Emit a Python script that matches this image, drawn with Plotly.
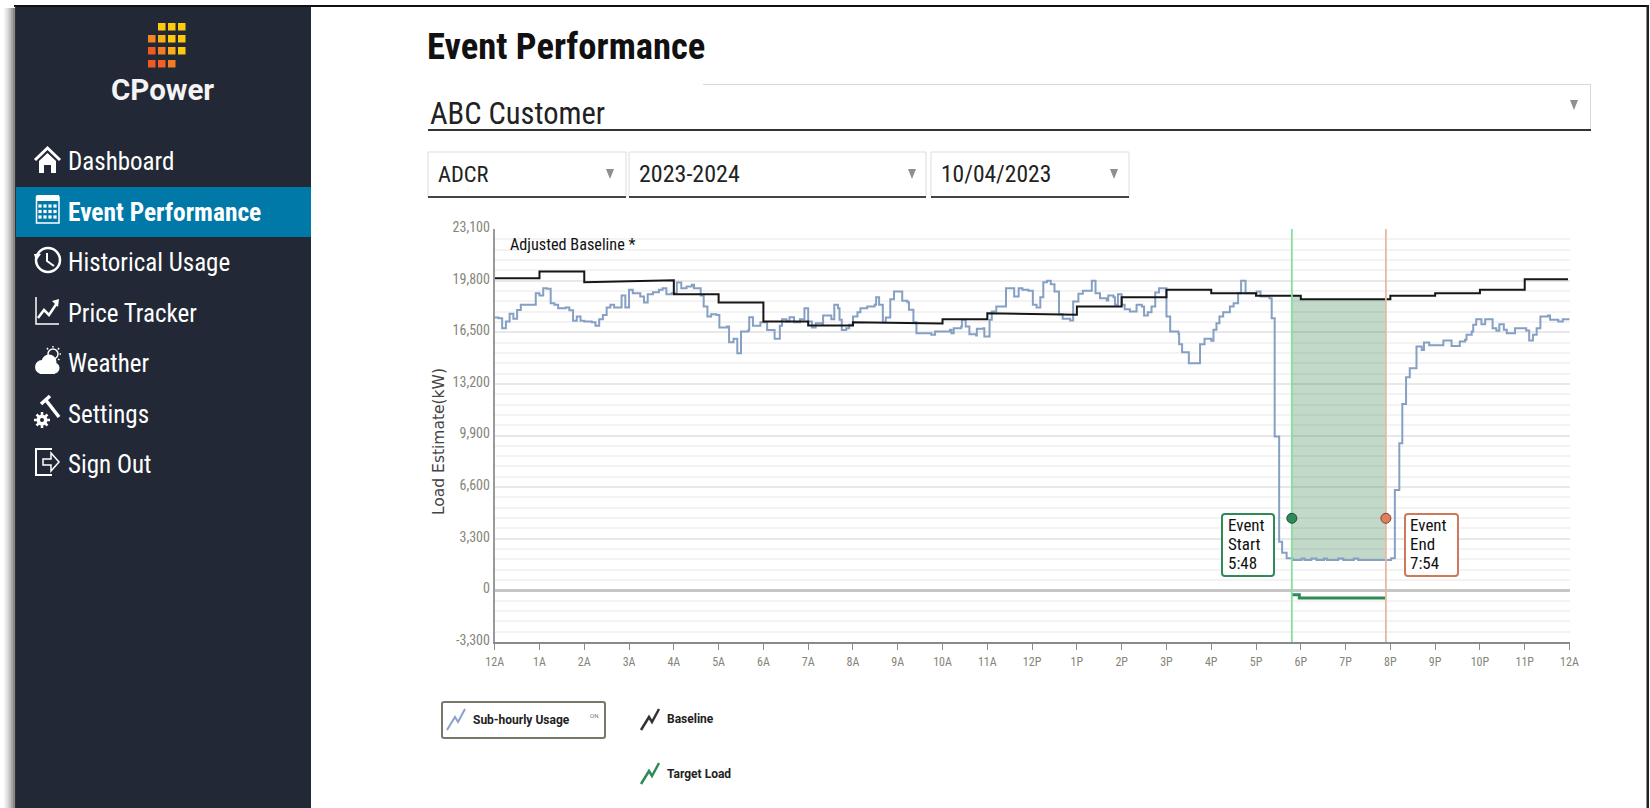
import plotly.graph_objects as go

W, H = 1650, 808
COND = "Roboto Condensed"

# ---------- chart data (minutes after midnight, kW) ----------
tick_minutes = list(range(0, 1441, 60))
tick_labels = ["12A","1A","2A","3A","4A","5A","6A","7A","8A","9A","10A","11A",
               "12P","1P","2P","3P","4P","5P","6P","7P","8P","9P","10P","11P","12A"]
y_ticks = [-3300, 0, 3300, 6600, 9900, 13200, 16500, 19800, 23100]
y_labels = ["-3,300", "0", "3,300", "6,600", "9,900", "13,200", "16,500", "19,800", "23,100"]

usage_min = [0,5,10,15,20,25,30,35,55,60,65,70,75,80,85,95,100,105,110,115,120,130,135,140,145,150,155,160,170,175,
             180,185,195,200,205,212,220,225,230,237,244,250,257,264,267,276,280,285,290,297,301,311,314,320,325,330,340,341,346,
             356,365,375,382,385,391,395,401,409,415,420,425,430,439,440,451,455,460,462,465,471,475,480,486,490,499,509,511,515,520,524,
             530,535,546,553,555,561,565,585,590,610,612,615,625,626,631,636,645,646,655,656,663,666,672,685,696,702,
             707,715,721,726,731,735,740,745,750,756,761,771,775,782,788,800,805,811,820,822,829,831,835,840,844,851,860,867,870,875,880,885,890,
             900,905,916,917,921,930,945,951,960,963,967,971,976,985,990,996,1000,1006,1021,1026,1038,1041,
             1045,1051,1055,1061,1069,1081,1085,1094,1101,1111,1115,1130,1137,1151,1157,1201,1206,1212,1216,1221,1226,1235,1242,1245,1252,
             1271,1282,1293,1300,1302,1309,1311,1315,1322,1327,1337,1342,1346,1352,1356,1367,1382,1386,1391,1396,1401,1411,1414,1425,1431,1440]
usage_kw = [17440,17400,16760,17190,17680,17360,17930,18250,19000,18850,19320,19275,18360,18250,18040,18080,17910,17230,17500,17230,17180,17140,16910,17335,17610,18080,18250,18080,18850,18080,
            19210,19000,18785,18400,18934,19060,19210,19320,18934,19000,19680,19320,19425,19530,19320,18850,18145,17500,17650,17610,16800,16865,15860,16080,15160,16550,16650,17460,16910,
            17143,16650,16077,16910,17335,17186,17463,17143,17335,18040,17186,16800,17080,16972,17570,17335,18252,18040,17292,16650,16760,16972,17505,17783,18040,18145,18252,18742,18252,17143,17440,
            18614,19104,18507,18422,17932,17143,16440,16333,16546,16652,16440,16760,16866,17292,16866,16375,16290,16716,16760,16226,17292,17825,18145,19318,18785,19318,
            19211,19147,18252,18081,18742,19701,19787,19573,19104,17655,17356,17250,18465,18955,19147,19787,18998,18678,18529,18849,18742,18252,18934,18252,17974,17825,18252,18145,17569,17783,18145,19040,19318,
            17505,16546,16397,15736,15224,14521,15736,16077,15949,16652,17079,17505,17783,18145,18358,18998,19787,18998,19104,18785,18678,17399,
            9830,3115,2411,2049,1942,2030,1942,2030,1942,2030,1942,2030,1942,2030,1942,2050,6420,9400,11920,13625,14200,15586,15373,15842,15672,
            15970,15629,15906,16013,16333,16546,16972,17335,17015,17335,16759,16589,17015,16652,16439,16759,16610,15970,16333,16759,17505,17569,17292,17185,17335,17292]

baseline_min = [0,60,60,120,120,240,240,300,300,360,360,420,420,480,480,600,600,660,660,780,780,840,840,900,900,
                960,960,1020,1020,1080,1080,1200,1200,1260,1260,1320,1320,1380,1380,1438]
baseline_kw = [19957,19957,20384,20384,19700,19830,18934,18934,18400,18400,17186,17186,16930,16930,17143,17058,17335,17335,17719,17612,18145,18145,18742,18742,19211,
               19211,18998,18998,18827,18827,18613,18613,18827,18827,18997,18997,19210,19210,19893,19893]

target_min = [1068, 1078, 1194]
target_kw = [-275, -490, -490]

event_start, event_end = 1068, 1194
event_line_kw = [-3300, 23150]
event_fill_min = [1068, 1080, 1080, 1194, 1194, 1068]
event_fill_kw = [18827, 18827, 18613, 18613, 1942, 1942]
marker_level = 4607

# ---------- helpers for page furniture (pixel -> paper) ----------
def X(p): return p / W
def Y(p): return 1 - p / H

shapes, notes = [], []

def rect(x0, y0, x1, y1, fill=None, line=None, lw=0, layer="below"):
    shapes.append(dict(type="rect", xref="paper", yref="paper", x0=X(x0), x1=X(x1), y0=Y(y1), y1=Y(y0),
                       fillcolor=fill or "rgba(0,0,0,0)", line=dict(color=line or "rgba(0,0,0,0)", width=lw), layer=layer))

def path(points, close=False, fill=None, line=None, lw=0, layer="above"):
    d = "M" + " L".join(f"{X(a):.6f},{Y(b):.6f}" for a, b in points) + (" Z" if close else "")
    shapes.append(dict(type="path", xref="paper", yref="paper", path=d,
                       fillcolor=fill or "rgba(0,0,0,0)", line=dict(color=line or "rgba(0,0,0,0)", width=lw), layer=layer))

def circle(cx, cy, r, fill=None, line=None, lw=0):
    shapes.append(dict(type="circle", xref="paper", yref="paper", x0=X(cx-r), x1=X(cx+r), y0=Y(cy+r), y1=Y(cy-r),
                       fillcolor=fill or "rgba(0,0,0,0)", line=dict(color=line or "rgba(0,0,0,0)", width=lw), layer="above"))

def rrect(x0, y0, x1, y1, r, line, lw, fill="white"):
    d = (f"M{X(x0+r):.6f},{Y(y0):.6f} L{X(x1-r):.6f},{Y(y0):.6f} Q{X(x1):.6f},{Y(y0):.6f} {X(x1):.6f},{Y(y0+r):.6f} "
         f"L{X(x1):.6f},{Y(y1-r):.6f} Q{X(x1):.6f},{Y(y1):.6f} {X(x1-r):.6f},{Y(y1):.6f} "
         f"L{X(x0+r):.6f},{Y(y1):.6f} Q{X(x0):.6f},{Y(y1):.6f} {X(x0):.6f},{Y(y1-r):.6f} "
         f"L{X(x0):.6f},{Y(y0+r):.6f} Q{X(x0):.6f},{Y(y0):.6f} {X(x0+r):.6f},{Y(y0):.6f} Z")
    shapes.append(dict(type="path", xref="paper", yref="paper", path=d, fillcolor=fill,
                       line=dict(color=line, width=lw), layer="above"))

def text(x, y, s, size, color="#111", family=COND, bold=False, anchor="left", angle=0):
    notes.append(dict(xref="paper", yref="paper", x=X(x), y=Y(y), xanchor=anchor, yanchor="middle",
                      text=f"<b>{s}</b>" if bold else s, showarrow=False, textangle=angle,
                      font=dict(size=size, color=color, family=family), align="left",
                      borderpad=0, borderwidth=0))

# page frame
for i, c in enumerate(["#f2f2f2", "#e4e4e4", "#d2d2d2", "#bcbcbc", "#a2a2a2", "#888888"]):
    rect(4 + i * 1.8, 8, 16, H, fill=c)
rect(14, 5, 1649, 7, fill="#111111")
rect(1646.5, 5, 1649, H, fill="#222222")
rect(15, 6, 16, H, fill="#333333")
rect(16, 7, 311, H, fill="#222835")
rect(16, 187, 311, 237, fill="#0079a8")

# logo
logo_cols = [148, 158, 168, 178]
logo_rows = [23, 35, 47, 60]
logo_colors = [[None, "#ffc90e", "#ffc90e", "#ffc90e"],
               ["#f5851f", "#fbb116", "#ffc90e", "#ffc90e"],
               ["#f05a22", "#f47b20", "#fbae17", "#ffc90e"],
               ["#f05a22", "#f15f22", "#f47b20", None]]
for r, row in zip(logo_rows, logo_colors):
    for c, col in zip(logo_cols, row):
        if col:
            rect(c, r, c + 7.5, r + 7.5, fill=col, layer="above")
text(162, 90, "CPower", 29.5, "#f4f4f4", "Roboto", bold=True, anchor="center")

# menu
menu = ["Dashboard", "Event Performance", "Historical Usage", "Price Tracker", "Weather", "Settings", "Sign Out"]
menu_y = [162, 212, 262, 313, 363, 414, 465]
for m, y in zip(menu, menu_y):
    text(67.5, y, m, 25.4 if m == "Event Performance" else 25, "#ffffff", bold=(m == "Event Performance"))

# home icon
path([(35, 160), (47.5, 148), (60, 160)], line="white", lw=3)
path([(39, 161), (47.5, 153), (56, 161), (56, 173), (51, 173), (51, 165), (44, 165), (44, 173), (39, 173)], close=True, fill="white")
# calendar icon
rect(36.5, 197, 59, 223, line="white", lw=1.5, layer="above")
rect(36.5, 195, 59, 201, fill="white", layer="above")
for cy in (206, 211.5, 217):
    for cx in (40, 45, 50, 55):
        rect(cx - 1.6, cy - 1.6, cx + 1.6, cy + 1.6, fill="white", layer="above")
# clock icon
circle(48, 260, 12, line="white", lw=2.5)
path([(47, 253), (47, 261), (54, 266)], line="white", lw=2)
path([(34, 254), (41, 254), (36, 261)], close=True, fill="white")
# price tracker icon
path([(36, 297), (36, 324), (59, 324)], line="white", lw=1.5)
path([(38, 318), (44, 310), (49, 315), (57, 303)], line="white", lw=2.5)
path([(52, 301), (59, 299), (58, 307)], close=True, fill="white")
# weather icon
circle(53, 354, 5, line="white", lw=1.5)
for a, b, c, d in [(53, 346, 53, 347.5), (59, 348, 58, 349.5), (61, 354, 59.5, 354), (47, 348, 48, 349.5), (59.5, 360, 58, 359)]:
    path([(a, b), (c, d)], line="white", lw=1.5)
circle(42, 367, 7, fill="white")
circle(49, 362, 7.5, fill="white")
circle(54, 368, 5.5, fill="white")
rect(40, 366, 55, 374, fill="white", layer="above")
# settings icon
path([(45, 399), (59, 417)], line="white", lw=3.5)
path([(41, 404), (50, 396)], line="white", lw=3.5)
circle(42, 420, 5.5, fill="white")
circle(42, 420, 2, fill="#222835")
for a, b, c, d in [(42, 412, 42, 428), (34, 420, 50, 420), (36.5, 414.5, 47.5, 425.5), (36.5, 425.5, 47.5, 414.5)]:
    path([(a, b), (a + (c - a) * 0.18, b + (d - b) * 0.18)], line="white", lw=2.5)
    path([(c, d), (c - (c - a) * 0.18, d - (d - b) * 0.18)], line="white", lw=2.5)
# sign-out icon
path([(52, 449), (36, 449), (36, 475), (52, 475)], line="white", lw=2)
path([(43, 459), (51, 459), (51, 453), (59, 462), (51, 471), (51, 465), (43, 465)], close=True, line="white", lw=1.5)

# header controls
text(427, 46, "Event Performance", 36.6, "#111111", bold=True)
text(430, 113, "ABC Customer", 30.5, "#222222")
rect(703, 84, 1590, 85, fill="#d8d8d0")
rect(1590, 84, 1591, 129, fill="#d8d8d0")
rect(428, 129, 1591, 131, fill="#333333")
def tri(cx, cy):
    path([(cx - 4, cy - 5), (cx + 4, cy - 5), (cx, cy + 5)], close=True, fill="#8f8f8f")
tri(1574, 105)
dropdowns = [("ADCR", 428, 626, 610, 22.5), ("2023-2024", 629, 926, 912, 24), ("10/04/2023", 931, 1129, 1114, 23.5)]
for label, x0, x1, ax, fs in dropdowns:
    rect(x0, 152, x1, 197, line="#dddddd", lw=1)
    rect(x0, 196, x1, 198, fill="#444444")
    text(x0 + 10, 174, label, fs, "#222222")
    tri(ax, 174)

# chart text
text(510, 244, "Adjusted Baseline *", 16.2, "#111111")
text(439, 442, "Load Estimate(kW)", 15.5, "#444444", "DejaVu Sans", anchor="center", angle=-90)

# event callouts
rrect(1222, 514, 1274, 576, 3, "#2e8b57", 2)
text(1228, 525, "Event", 17); text(1228, 544, "Start", 17); text(1228, 563, "5:48", 17)
rrect(1405, 514, 1458, 576, 3, "#d0785a", 2)
text(1410, 525, "Event", 17); text(1410, 544, "End", 17); text(1410, 563, "7:54", 17)

# legend furniture
rrect(442, 702, 605, 738, 2, "#77776a", 2)
path([(447, 730), (455, 717), (458, 722), (465, 709)], line="#8aa3c6", lw=2)
text(473, 720, "Sub-hourly Usage", 12, "#222222", "Roboto", bold=True)
text(594, 715, "ON", 6, "#777777", "Roboto", anchor="center")
path([(641, 730), (649, 717), (652, 722), (659, 709)], line="#333333", lw=2.5)
text(667, 719, "Baseline", 12, "#222222", "Roboto", bold=True)
path([(641, 784), (649, 771), (652, 776), (659, 763)], line="#2e8b57", lw=2.5)
text(667, 774, "Target Load", 12, "#222222", "Roboto", bold=True)

fig = go.Figure()
fig.add_trace(go.Scatter(x=event_fill_min, y=event_fill_kw, fill="toself", fillcolor="rgba(46,125,70,0.29)",
                         mode="none", hoverinfo="skip", showlegend=False))
fig.add_trace(go.Scatter(x=usage_min, y=usage_kw, mode="lines", name="Sub-hourly Usage",
                         line=dict(color="#86a0c4", width=2, shape="hv"), showlegend=False))
fig.add_trace(go.Scatter(x=baseline_min, y=baseline_kw, mode="lines", name="Baseline",
                         line=dict(color="#161616", width=2), showlegend=False))
fig.add_trace(go.Scatter(x=target_min, y=target_kw, mode="lines", name="Target Load",
                         line=dict(color="#2e8b57", width=3, shape="hv"), showlegend=False))
fig.add_trace(go.Scatter(x=[event_start, event_start], y=event_line_kw, mode="lines", cliponaxis=False, showlegend=False,
                         line=dict(color="#84e09c", width=1.8), hoverinfo="skip"))
fig.add_trace(go.Scatter(x=[event_end, event_end], y=event_line_kw, mode="lines", cliponaxis=False, showlegend=False,
                         line=dict(color="#e8b9a2", width=1.8), hoverinfo="skip"))
fig.add_trace(go.Scatter(x=[event_start], y=[marker_level], mode="markers", showlegend=False,
                         marker=dict(size=10, color="#2e8b57", line=dict(color="#1d4d33", width=1))))
fig.add_trace(go.Scatter(x=[event_end], y=[marker_level], mode="markers", showlegend=False,
                         marker=dict(size=10, color="#e07f5c", line=dict(color="#7a4632", width=1))))

xtick_font = dict(size=12, color="#85857a", family=COND)
ytick_font = dict(size=14, color="#85857a", family=COND)
fig.update_layout(
    width=W, height=H, autosize=False, margin=dict(l=0, r=0, t=0, b=0, pad=0, autoexpand=False),
    paper_bgcolor="white", plot_bgcolor="white",
    shapes=shapes, annotations=notes, showlegend=False,
    xaxis=dict(domain=[494.7 / W, 1569.5 / W], range=[0, 1440], tickmode="array", tickvals=tick_minutes,
               ticktext=tick_labels, ticks="outside", ticklen=6, tickcolor="#8a8a8a", showgrid=False,
               ticklabelstandoff=2, showline=True, linecolor="#8a8a8a", linewidth=1.5, zeroline=False, tickfont=xtick_font),
    yaxis=dict(domain=[1 - 642 / H, 1 - 229 / H], range=[-3300, 23100], tickmode="array", tickvals=y_ticks,
               ticktext=y_labels, ticklabelshift=-2, gridcolor="#e8e8e8", gridwidth=1.5, showline=True, linecolor="#9a9a9a", linewidth=2,
               zeroline=True, zerolinecolor="#c6c6c6", zerolinewidth=3, tickfont=ytick_font,
               minor=dict(dtick=660, tick0=0, showgrid=True, gridcolor="#f3f3f3", gridwidth=1.5)),
)
fig.write_html("out.html", config=dict(displayModeBar=False))
page = open("out.html", encoding="utf-8").read()
css = "<style>html,body{margin:0!important;padding:0!important;overflow:hidden}</style>"
page = page.replace("<head>", "<head>" + css, 1).replace("<body>", '<body style="margin:0;padding:0">', 1)
open("out.html", "w", encoding="utf-8").write(page)
